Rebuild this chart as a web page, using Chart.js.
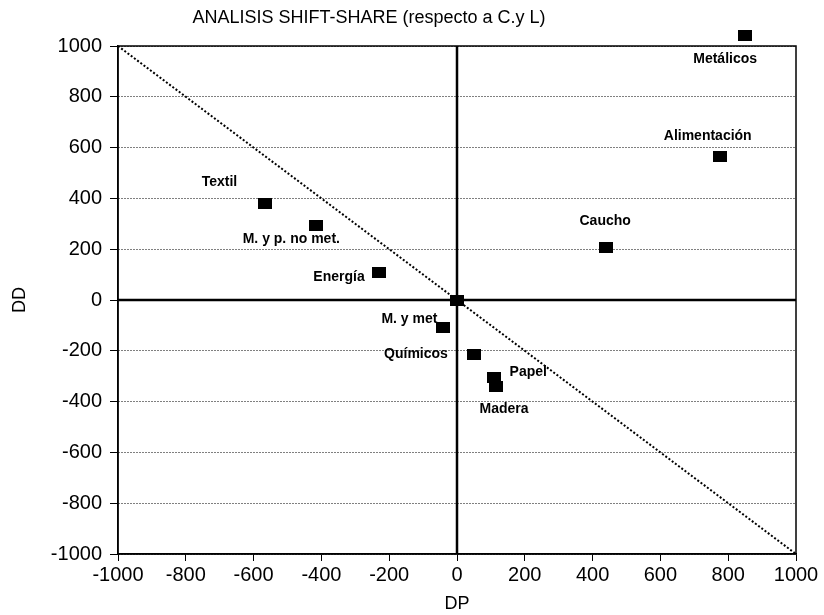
<!DOCTYPE html>
<html>
<head>
<meta charset="utf-8">
<title>Analisis shift-share</title>
<script src="https://cdn.jsdelivr.net/npm/chart.js@4.4.0/dist/chart.umd.min.js"></script>
<style>
  html, body { margin: 0; padding: 0; background: #fff; }
</style>
</head>
<body>
<canvas id="shiftShare" width="824" height="615"></canvas>
<script>
// sectors and their shift-share components (DP = differential, DD = structural)
const sectors = ['Metálicos', 'Alimentación', 'Caucho', 'Textil', 'M. y p. no met.', 'Energía', '', 'M. y met', 'Químicos', 'Papel', 'Madera'];
const dpValues = [850, 775, 440, -565, -415, -230, 0, -40, 50, 110, 115];
const ddValues = [1040, 565, 205, 380, 295, 110, 0, -110, -215, -305, -340];

const axisTicks = [-1000, -800, -600, -400, -200, 0, 200, 400, 600, 800, 1000];
const diagonalDP = [-1000, 1000];
const diagonalDD = [1000, -1000];
const zeroSpan = [-1000, 1000];

const chartTitle = 'ANALISIS SHIFT-SHARE (respecto a C.y L)';

// where each sector name sits relative to its square, in px
const labelOffsets = [[-20, 23], [-12, -20], [-1, -27], [-46, -21], [-25, 14], [-40, 5], [0, 0], [-34, -9], [-58, 0], [34, -5], [8, 23]];

Chart.defaults.font.family = '"Liberation Sans", Arial, sans-serif';
Chart.defaults.color = '#000';

// black block marker, a bit wider than tall like the original
const marker = document.createElement('canvas');
marker.width = 14;
marker.height = 11;
const mctx = marker.getContext('2d');
mctx.fillStyle = '#000';
mctx.fillRect(0, 0, 14, 11);

const frameAndLabels = {
  id: 'frameAndLabels',
  afterDatasetsDraw(chart) {
    const { ctx, chartArea: a } = chart;
    ctx.save();
    ctx.strokeStyle = '#000';
    ctx.lineWidth = 1.5;
    ctx.strokeRect(a.left, a.top, a.right - a.left, a.bottom - a.top);

    ctx.fillStyle = '#000';
    ctx.textAlign = 'center';
    ctx.textBaseline = 'middle';
    ctx.font = 'bold 14px "Liberation Sans", Arial, sans-serif';
    chart.getDatasetMeta(0).data.forEach((pt, i) => {
      // the library skips points beyond the axis range, so place those markers here
      if (pt.y < a.top || pt.y > a.bottom || pt.x < a.left || pt.x > a.right) {
        ctx.drawImage(marker, pt.x - marker.width / 2, pt.y - marker.height / 2);
      }
      if (!sectors[i]) return;
      const [dx, dy] = labelOffsets[i];
      ctx.fillText(sectors[i], pt.x + dx, pt.y + dy);
    });

    ctx.font = '18px "Liberation Sans", Arial, sans-serif';
    ctx.fillText(chartTitle, 369, 18);
    ctx.restore();
  }
};

const fixedTicks = scale => { scale.ticks = axisTicks.map(v => ({ value: v })); };

new Chart(document.getElementById('shiftShare'), {
  type: 'scatter',
  data: {
    datasets: [
      {
        label: 'Sectores',
        data: dpValues.map((x, i) => ({ x: x, y: ddValues[i] })),
        pointStyle: marker,
        clip: false,
        order: 0
      },
      {
        label: 'Diagonal',
        data: diagonalDP.map((x, i) => ({ x: x, y: diagonalDD[i] })),
        showLine: true,
        borderColor: '#000',
        borderWidth: 2,
        borderDash: [2, 2],
        pointRadius: 0,
        order: 3
      },
      {
        label: 'Eje DP',
        data: zeroSpan.map(y => ({ x: 0, y: y })),
        showLine: true,
        borderColor: '#000',
        borderWidth: 2.5,
        pointRadius: 0,
        order: 2
      },
      {
        label: 'Eje DD',
        data: zeroSpan.map(x => ({ x: x, y: 0 })),
        showLine: true,
        borderColor: '#000',
        borderWidth: 2.5,
        pointRadius: 0,
        order: 2
      }
    ]
  },
  options: {
    responsive: false,
    animation: false,
    layout: { padding: { top: 46, right: 28, left: 0, bottom: 0 } },
    plugins: {
      legend: { display: false },
      tooltip: { enabled: false }
    },
    scales: {
      x: {
        type: 'linear',
        min: -1000,
        max: 1000,
        afterBuildTicks: fixedTicks,
        afterFit: s => { s.height = 61; },
        ticks: {
          callback: v => String(v),
          font: { size: 20 },
          color: '#000',
          maxRotation: 0,
          autoSkip: false,
          padding: 2
        },
        grid: { drawOnChartArea: false, drawTicks: true, tickLength: 7, tickColor: '#000', color: '#000' },
        border: { color: '#000', width: 1.5 },
        title: { display: true, text: 'DP', font: { size: 18 }, color: '#000', padding: { top: 0, bottom: 0 } }
      },
      y: {
        type: 'linear',
        min: -1000,
        max: 1000,
        afterBuildTicks: fixedTicks,
        afterFit: s => { s.width = 118; },
        ticks: {
          callback: v => String(v),
          font: { size: 20 },
          color: '#000',
          autoSkip: false,
          padding: 8
        },
        grid: { color: '#000', lineWidth: 1, drawTicks: true, tickLength: 8, tickColor: '#000' },
        border: { color: '#000', width: 1.5, dash: [1, 2] },
        title: { display: true, text: 'DD', font: { size: 18 }, color: '#000', padding: { top: 9, bottom: 0 } }
      }
    }
  },
  plugins: [frameAndLabels]
});
</script>
</body>
</html>
